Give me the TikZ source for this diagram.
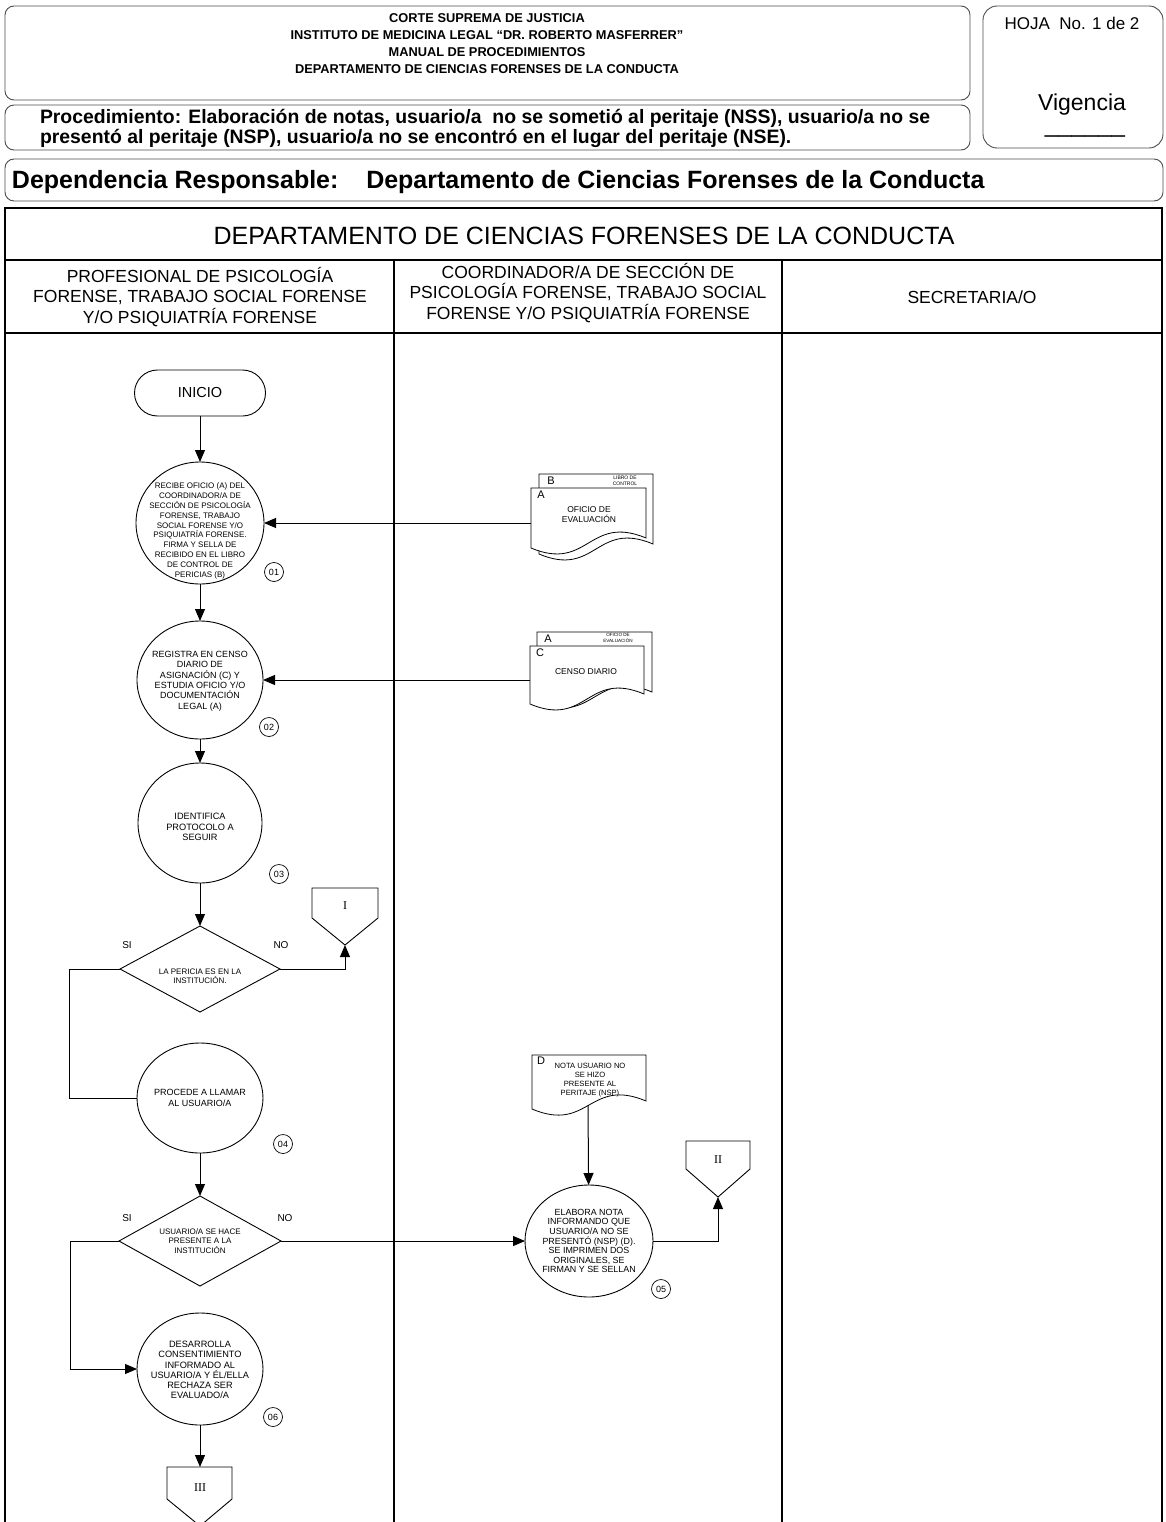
\documentclass[tikz,border=0pt]{standalone}
\usepackage{fontspec}
\setmainfont{Liberation Sans}
\newfontfamily\romanfont{Liberation Serif}
\usetikzlibrary{arrows.meta,shapes.geometric}
\begin{document}
\begin{tikzpicture}[x=1pt,y=-1pt,
  every node/.style={inner sep=0pt, outer sep=0pt},
  hdrbox/.style={draw=black!70, line width=0.9pt, rounded corners=9pt},
  tbl/.style={draw=black, line width=1.2pt},
  link/.style={line width=1pt},
  flow/.style={line width=1pt, -{Triangle[length=12pt,width=10pt]}},
  proc/.style={draw, ellipse, line width=0.9pt},
  decis/.style={draw, diamond, line width=0.9pt},
  ptxt/.style={align=center},
  numtag/.style={draw, circle, line width=0.7pt, minimum size=19pt, font=\fontsize{9}{10}\selectfont},
  yesno/.style={font=\fontsize{10}{12}\selectfont},
  paper/.style={draw, line width=0.8pt, fill=white},
  offpage/.style={draw, line width=0.9pt, fill=white},
  romlbl/.style={font=\romanfont\fontsize{12}{14}\selectfont},
]
\useasboundingbox (0,0) rectangle (1165,1522);

% ---------- header ----------
\draw[hdrbox] (5,6) rectangle (970,100);
\draw[hdrbox] (5,105) rectangle (970,150);
\draw[hdrbox, rounded corners=14pt] (983,6) rectangle (1163,148);
\draw[hdrbox] (5,159) rectangle (1163,201);

\node[font=\bfseries\fontsize{12.8}{15}\selectfont] (h1) at (487,18) {CORTE SUPREMA DE JUSTICIA};
\node[font=\bfseries\fontsize{12.8}{15}\selectfont] (h2) at (487,35) {INSTITUTO DE MEDICINA LEGAL “DR. ROBERTO MASFERRER”};
\node[font=\bfseries\fontsize{12.8}{15}\selectfont] (h3) at (487,52) {MANUAL DE PROCEDIMIENTOS};
\node[font=\bfseries\fontsize{12.8}{15}\selectfont] (h4) at (487,69) {DEPARTAMENTO DE CIENCIAS FORENSES DE LA CONDUCTA};

\node[anchor=base west, font=\bfseries\fontsize{19.4}{22}\selectfont] (p1) at (40,124) {Procedimiento: Elaboración de notas, usuario/a\ \ no se sometió al peritaje (NSS), usuario/a no se};
\node[anchor=base west, font=\bfseries\fontsize{19.4}{22}\selectfont] (p2) at (40,144) {presentó al peritaje (NSP), usuario/a no se encontró en el lugar del peritaje (NSE).};

\node[anchor=base west, font=\bfseries\fontsize{25}{28}\selectfont] (dep) at (12,189) {Dependencia Responsable:\ \ \ \ Departamento de Ciencias Forenses de la Conducta};

\node[font=\fontsize{17}{20}\selectfont] (hoja) at (1072,23) {HOJA\ \ No. 1 de 2};
\node[font=\fontsize{23}{26}\selectfont] (vig) at (1082,105) {Vigencia};
\node[anchor=base, font=\fontsize{24}{26}\selectfont] (vline) at (1085,133) {\_\_\_\_\_\_};

% ---------- swimlane table ----------
\draw[tbl] (5,1530) -- (5,208) -- (1162,208) -- (1162,1530);
\draw[tbl] (5,260) -- (1162,260);
\draw[tbl] (5,333) -- (1162,333);
\draw[tbl] (394,260) -- (394,1530);
\draw[tbl] (782,260) -- (782,1530);

\node[font=\fontsize{25}{30}\selectfont] (title) at (584,236) {DEPARTAMENTO DE CIENCIAS FORENSES DE LA CONDUCTA};
\node[align=center, font=\fontsize{17.5}{20.5}\selectfont] (lane1) at (200,297) {PROFESIONAL DE PSICOLOGÍA\\FORENSE, TRABAJO SOCIAL FORENSE\\Y/O PSIQUIATRÍA FORENSE};
\node[align=center, font=\fontsize{17.5}{20.5}\selectfont] (lane2) at (588,293) {COORDINADOR/A DE SECCIÓN DE\\PSICOLOGÍA FORENSE, TRABAJO SOCIAL\\FORENSE Y/O PSIQUIATRÍA FORENSE};
\node[align=center, font=\fontsize{17.5}{20.5}\selectfont] (lane3) at (972,297) {SECRETARIA/O};

% ---------- flow nodes, lane 1 ----------
\node[draw, line width=0.9pt, rounded corners=23pt, minimum width=131pt, minimum height=46pt,
      font=\fontsize{14.5}{16}\selectfont] (inicio) at (200,393) {INICIO};

\node[proc, minimum width=128pt, minimum height=122pt] (c1) at (200,523) {};
\node[ptxt, font=\fontsize{8}{9.8}\selectfont] (t1) at (200,531) {RECIBE OFICIO (A) DEL\\COORDINADOR/A DE\\SECCIÓN DE PSICOLOGÍA\\FORENSE, TRABAJO\\SOCIAL FORENSE Y/O\\PSIQUIATRÍA FORENSE.\\FIRMA Y SELLA DE\\RECIBIDO EN EL LIBRO\\DE CONTROL DE\\PERICIAS (B)};
\node[numtag] (n1) at (274,572) {01};

\node[proc, minimum width=126pt, minimum height=118pt] (c2) at (200,680) {};
\node[ptxt, font=\fontsize{9}{10.4}\selectfont] (t2) at (200,681) {REGISTRA EN CENSO\\DIARIO DE\\ASIGNACIÓN (C) Y\\ESTUDIA OFICIO Y/O\\DOCUMENTACIÓN\\LEGAL (A)};
\node[numtag] (n2) at (269,727) {02};

\node[proc, minimum width=124pt, minimum height=120pt] (c3) at (200,823) {};
\node[ptxt, font=\fontsize{9.2}{10.2}\selectfont] (t3) at (200,827) {IDENTIFICA\\PROTOCOLO A\\SEGUIR};
\node[numtag] (n3) at (279,874) {03};

\node[decis, minimum width=160pt, minimum height=86pt] (d1) at (200,969) {};
\node[ptxt, font=\fontsize{8}{9.5}\selectfont] (td1) at (200,976) {LA PERICIA ES EN LA\\INSTITUCIÓN.};
\node[yesno] (si1) at (127,945) {SI};
\node[yesno] (no1) at (281,945) {NO};

\node[proc, minimum width=126pt, minimum height=110pt] (c4) at (200,1098) {};
\node[ptxt, font=\fontsize{9}{11}\selectfont] (t4) at (200,1098) {PROCEDE A LLAMAR\\AL USUARIO/A};
\node[numtag] (n4) at (283,1144) {04};

\node[decis, minimum width=162pt, minimum height=90pt] (d2) at (200,1241) {};
\node[ptxt, font=\fontsize{8}{9.3}\selectfont] (td2) at (200,1241) {USUARIO/A SE HACE\\PRESENTE A LA\\INSTITUCIÓN};
\node[yesno] (si2) at (127,1218) {SI};
\node[yesno] (no2) at (285,1218) {NO};

\node[proc, minimum width=126pt, minimum height=112pt] (c6) at (200,1369) {};
\node[ptxt, font=\fontsize{9.2}{10.2}\selectfont] (t6) at (200,1370) {DESARROLLA\\CONSENTIMIENTO\\INFORMADO AL\\USUARIO/A Y ÉL/ELLA\\RECHAZA SER\\EVALUADO/A};
\node[numtag] (n6) at (273,1417) {06};

% off-page connectors
\draw[offpage] (312,888) -- (378,888) -- (378,918) -- (345,945) -- (312,918) -- cycle;
\coordinate (offI) at (345,945);
\node[romlbl] (rI) at (345,906) {I};

\draw[offpage] (167,1467) -- (232,1467) -- (232,1499) -- (200,1526) -- (167,1499) -- cycle;
\coordinate (offIII) at (200,1467);
\node[romlbl] (rIII) at (200,1488) {III};

% ---------- lane 2 ----------
% document stack B / A
\draw[paper] (539,474) -- (653,474) -- (653,544) .. controls (596,520) and (596,578) .. (539,554) -- cycle;
\draw[paper] (531,488) -- (646,488) -- (646,538) .. controls (588.5,514) and (588.5,572) .. (531,548) -- cycle;
\coordinate (docA) at (531,523);
\node[font=\fontsize{11}{12}\selectfont] (lB) at (551,481) {B};
\node[align=center, font=\fontsize{5}{5.6}\selectfont] (lBt) at (625,481) {LIBRO DE\\CONTROL};
\node[font=\fontsize{11}{12}\selectfont] (lA) at (541,495) {A};
\node[ptxt, font=\fontsize{8.5}{10}\selectfont] (tA) at (589,515) {OFICIO DE\\EVALUACIÓN};

% document stack A / C
\draw[paper] (537,632) -- (652,632) -- (652,692) .. controls (594.5,668) and (594.5,726) .. (537,702) -- cycle;
\draw[paper] (530,646) -- (644,646) -- (644,694) .. controls (587,670) and (587,728) .. (530,704) -- cycle;
\coordinate (docC) at (530,680);
\node[font=\fontsize{11}{12}\selectfont] (lA2) at (548,639) {A};
\node[align=center, font=\fontsize{4.6}{5.2}\selectfont] (lAt) at (618,638) {OFICIO DE\\EVALUACIÓN};
\node[font=\fontsize{11}{12}\selectfont] (lC) at (540,653) {C};
\node[ptxt, font=\fontsize{8.5}{10}\selectfont] (tC) at (586,672) {CENSO DIARIO};

% document D
\draw[paper] (532,1055) -- (646,1055) -- (646,1101) .. controls (589,1077) and (589,1133) .. (532,1109) -- cycle;
\coordinate (docD) at (588,1105);
\node[font=\fontsize{11}{12}\selectfont] (lD) at (541,1061) {D};
\node[ptxt, font=\fontsize{7.6}{8.8}\selectfont] (tD) at (590,1080) {NOTA USUARIO NO\\SE HIZO\\PRESENTE AL\\PERITAJE (NSP)};

\node[proc, minimum width=128pt, minimum height=112pt] (c5) at (589,1241) {};
\node[ptxt, font=\fontsize{8.9}{9.6}\selectfont] (t5) at (589,1241) {ELABORA NOTA\\INFORMANDO QUE\\USUARIO/A NO SE\\PRESENTÓ (NSP) (D).\\SE IMPRIMEN DOS\\ORIGINALES, SE\\FIRMAN Y SE SELLAN};
\node[numtag] (n5) at (661,1289) {05};

\draw[offpage] (686,1141) -- (750,1141) -- (750,1169) -- (718,1197) -- (686,1169) -- cycle;
\coordinate (offII) at (718,1197);
\node[romlbl] (rII) at (718,1160) {II};

% ---------- connectors ----------
\draw[flow] (inicio) -- (c1);
\draw[flow] (c1) -- (c2);
\draw[flow] (c2) -- (c3);
\draw[flow] (c3) -- (d1);
\draw[flow] (docA) -- (c1);
\draw[flow] (docC) -- (c2);
\draw[flow] (d1.east) -| (offI);
\draw[link] (d1.west) -- ++(-51,0) |- (c4.west);
\draw[flow] (c4) -- (d2);
\draw[flow] (d2.west) -- ++(-49,0) |- (c6.west);
\draw[flow] (d2) -- (c5);
\draw[flow] (docD) -- (c5);
\draw[flow] (c5.east) -| (offII);
\draw[flow] (c6) -- (offIII);
\end{tikzpicture}
\end{document}
